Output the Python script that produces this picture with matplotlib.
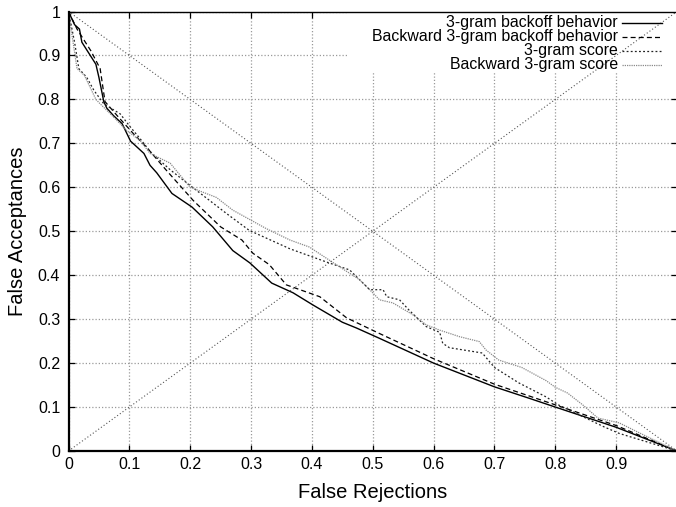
import matplotlib
matplotlib.use("Agg")
import matplotlib.pyplot as plt
from matplotlib.patches import Rectangle

plt.rcParams['font.family'] = ['Liberation Sans', 'DejaVu Sans']

# ---- data ----
fwd_backoff_x = [0, 0.01, 0.018, 0.022, 0.045, 0.05, 0.058, 0.063, 0.074, 0.088, 0.102, 0.124,
                 0.134, 0.145, 0.17, 0.203, 0.237, 0.27, 0.298, 0.334, 0.369, 0.402, 0.45,
                 0.473, 0.51, 0.6, 0.7, 0.757, 0.8, 0.9, 1.0]
fwd_backoff_y = [1.0, 0.97, 0.96, 0.93, 0.88, 0.85, 0.795, 0.78, 0.763, 0.745, 0.705, 0.677,
                 0.65, 0.633, 0.586, 0.555, 0.51, 0.456, 0.428, 0.382, 0.36, 0.332, 0.293,
                 0.28, 0.257, 0.2, 0.146, 0.12, 0.1, 0.054, 0.0]

bwd_backoff_x = [0, 0.014, 0.037, 0.052, 0.06, 0.08, 0.108, 0.129, 0.16, 0.205, 0.25, 0.285,
                 0.303, 0.33, 0.358, 0.413, 0.457, 0.51, 0.6, 0.7, 0.8, 0.9, 1.0]
bwd_backoff_y = [1.0, 0.96, 0.91, 0.87, 0.795, 0.763, 0.72, 0.69, 0.64, 0.57, 0.51, 0.48,
                 0.45, 0.424, 0.378, 0.351, 0.303, 0.268, 0.21, 0.152, 0.105, 0.058, 0.0]

fwd_score_x = [0, 0.01, 0.017, 0.03, 0.042, 0.058, 0.085, 0.1, 0.118, 0.135, 0.167, 0.2, 0.26,
               0.297, 0.364, 0.424, 0.462, 0.495, 0.517, 0.523, 0.544, 0.56, 0.588, 0.61,
               0.615, 0.626, 0.68, 0.70, 0.74, 0.785, 0.805, 0.85, 0.88, 0.905, 1.0]
fwd_score_y = [1.0, 0.93, 0.87, 0.85, 0.82, 0.79, 0.767, 0.74, 0.71, 0.68, 0.64, 0.604, 0.54,
               0.502, 0.46, 0.43, 0.412, 0.367, 0.367, 0.351, 0.344, 0.32, 0.283, 0.27,
               0.245, 0.235, 0.223, 0.19, 0.155, 0.123, 0.105, 0.075, 0.055, 0.04, 0.0]

bwd_score_x = [0, 0.014, 0.026, 0.045, 0.052, 0.074, 0.095, 0.118, 0.134, 0.167, 0.2, 0.243,
               0.27, 0.325, 0.364, 0.396, 0.43, 0.478, 0.5, 0.511, 0.533, 0.566, 0.588, 0.61,
               0.643, 0.675, 0.686, 0.707, 0.745, 0.785, 0.8, 0.82, 0.845, 0.87, 0.905, 0.94, 1.0]
bwd_score_y = [1.0, 0.87, 0.855, 0.80, 0.79, 0.76, 0.73, 0.706, 0.677, 0.655, 0.6, 0.577,
               0.548, 0.506, 0.48, 0.464, 0.433, 0.39, 0.36, 0.344, 0.337, 0.31, 0.287, 0.275,
               0.26, 0.249, 0.23, 0.207, 0.19, 0.16, 0.145, 0.132, 0.105, 0.075, 0.064, 0.04, 0.0]

diag_x = [0, 1]
diag_up_y = [0, 1]
diag_down_y = [1, 0]

labels = ["3-gram backoff behavior", "Backward 3-gram backoff behavior",
          "3-gram score", "Backward 3-gram score"]
x_ticks = [0, 0.1, 0.2, 0.3, 0.4, 0.5, 0.6, 0.7, 0.8, 0.9]
x_tick_labels = ["0", "0.1", "0.2", "0.3", "0.4", "0.5", "0.6", "0.7", "0.8", "0.9"]
y_ticks = [0, 0.1, 0.2, 0.3, 0.4, 0.5, 0.6, 0.7, 0.8, 0.9, 1.0]
y_tick_labels = ["0", "0.1", "0.2", "0.3", "0.4", "0.5", "0.6", "0.7", "0.8", "0.9", "1"]

# ---- figure ----
W, H = 676, 507
fig = plt.figure(figsize=(W / 100, H / 100), dpi=100)
left_px, right_px, top_px, bot_px = 68.5, 677.0, 11.5, 451.0
ax = fig.add_axes([left_px / W, (H - bot_px) / H, (right_px - left_px) / W, (bot_px - top_px) / H])
ax.set_xlim(0, 1)
ax.set_ylim(0, 1)

# grid
ax.grid(True, color='#9a9a9a', linestyle=(0, (1, 1.6)), linewidth=0.9, zorder=0.5)
ax.set_axisbelow(True)

# legend background (opaque key box hiding the grid)
ax.add_patch(Rectangle((0.458, 0.86), 0.55, 0.145, facecolor='white', edgecolor='none',
                       zorder=1, clip_on=False))

styles = [
    dict(color='black', linestyle='-', linewidth=1.0),
    dict(color='black', linestyle=(0, (4, 2.5)), linewidth=0.9),
    dict(color='#222222', linestyle=(0, (1.5, 1.8)), linewidth=0.9),
    dict(color='#8a8a8a', linestyle=(0, (1, 0.8)), linewidth=0.9),
]
series = [(fwd_backoff_x, fwd_backoff_y), (bwd_backoff_x, bwd_backoff_y),
          (fwd_score_x, fwd_score_y), (bwd_score_x, bwd_score_y)]

for (xs, ys), st in zip(series, styles):
    ax.plot(xs, ys, zorder=2, **st)

ax.plot(diag_x, diag_up_y, color='#555555', linestyle=(0, (1, 2)), linewidth=0.8, zorder=2.5,
        clip_on=False)
ax.plot(diag_x, diag_down_y, color='#555555', linestyle=(0, (1, 2)), linewidth=0.8, zorder=2.5)

# manual gnuplot-like key (right-aligned text, sample on the right)
def px2y(py):
    return (bot_px - py) / (bot_px - top_px)

def px2x(px):
    return (px - left_px) / (right_px - left_px)

rows_py = [23, 37, 51, 64.5]
for lab, st, py in zip(labels, styles, rows_py):
    yy = px2y(py)
    ax.text(px2x(618), yy, lab, ha='right', va='center', fontsize=11.4, zorder=3)
    ax.plot([px2x(622), px2x(662)], [yy, yy], zorder=3, clip_on=False, **st)

# ticks and spines
ax.set_xticks(x_ticks)
ax.set_xticklabels(x_tick_labels)
ax.set_yticks(y_ticks)
ax.set_yticklabels(y_tick_labels)
ax.tick_params(axis='both', direction='in', length=4.5, width=0.9, labelsize=11.5,
               top=True, right=True, colors='black')
ax.tick_params(axis='x', pad=4)
ax.tick_params(axis='y', pad=6)
for s in ['left', 'bottom']:
    ax.spines[s].set_linewidth(1.6)
ax.spines['top'].set_linewidth(1.0)
ax.spines['right'].set_linewidth(1.0)

ax.set_xlabel("False Rejections", fontsize=14.5, labelpad=8)
ax.set_ylabel("False Acceptances", fontsize=14.5, labelpad=8)

fig.savefig("out.png", dpi=100, facecolor='white')
